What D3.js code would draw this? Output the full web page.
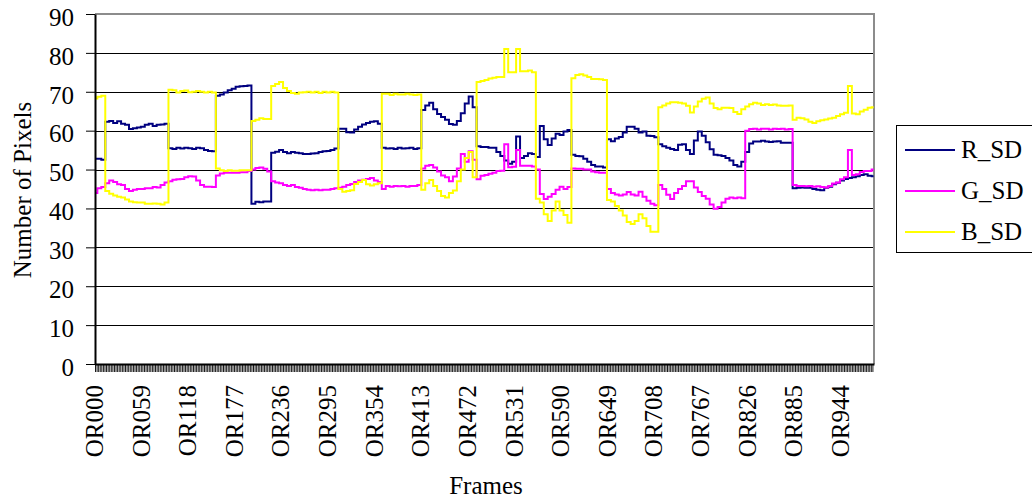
<!DOCTYPE html>
<html>
<head>
<meta charset="utf-8">
<script src="https://cdn.jsdelivr.net/npm/d3@7"></script>
<style>
  body { margin: 0; background: #fff; }
  text { font-family: 'Liberation Serif', 'Times New Roman', serif; fill: #000; }
</style>
</head>
<body>
<div class="chart"></div>
<script>
// Data - frames OR000..OR985, one reading every 5th frame
const frameCount = 986
const sampleStep = 5

const tickLabels = ['OR000', 'OR059', 'OR118', 'OR177', 'OR236', 'OR295', 'OR354', 'OR413', 'OR472',
  'OR531', 'OR590', 'OR649', 'OR708', 'OR767', 'OR826', 'OR885', 'OR944']
const yTicks = [0, 10, 20, 30, 40, 50, 60, 70, 80, 90]

const seriesNames = ['R_SD', 'G_SD', 'B_SD']
const seriesColors = ['#000080', '#ff00ff', '#ffff00']

const rSD = [
  52.8, 52.8, 52.5, 62.3, 62.5, 62, 62.4, 61.8, 61.5, 60.4,
  60.6, 60.8, 61, 61.5, 61.8, 61.2, 61.5, 61.6, 61.8, 55.5,
  55.3, 55.6, 55.4, 55.6, 55.5, 55.3, 55.6, 55.5, 55, 54.8,
  54.7, 69, 69.3, 69.8, 70.4, 70.8, 71.3, 71.4, 71.5, 71.6,
  41.2, 41.7, 41.6, 41.8, 41.8, 54.3, 54.6, 55, 54.5, 54.2,
  54.5, 54.3, 54.2, 54, 54, 54.1, 54.2, 54.5, 54.7, 54.8,
  55, 55.4, 60.5, 60.5, 59.6, 59.5, 60.3, 61, 61.6, 62,
  62.3, 62.4, 61.8, 55.6, 55.4, 55.5, 55.3, 55.6, 55.4, 55.5,
  55.6, 55.3, 55.5, 65.3, 66.5, 67.2, 65.5, 64.3, 63.5, 62.8,
  61.7, 61.5, 62.5, 64.5, 67, 68.8, 66, 56, 55.8, 55.8,
  55.6, 55.6, 54.5, 53.5, 52.3, 51.5, 52, 58.5, 53, 53.5,
  54.2, 54, 53.2, 61.2, 57.8, 56.3, 58, 59.2, 58.9, 59.8,
  60.2, 53.8, 53.5, 53.4, 52.8, 52, 51.2, 50.8, 50.8, 50.5,
  57.8, 57.3, 58, 58.4, 59.5, 61, 61, 60.5, 59.5, 59.8,
  58.7, 58.6, 58.3, 56.5, 56, 55.6, 55.3, 55, 56.4, 56.5,
  55, 54, 57.5, 59.8, 58.7, 57, 55.2, 53.8, 53.7, 53.5,
  53, 52.3, 51.2, 50.8, 52, 54.5, 56.7, 57.2, 57.2, 57.4,
  57.2, 57.1, 57.2, 57.3, 56.9, 56.9, 56.9, 45.2, 45.3, 45.4,
  45.3, 45.3, 45, 44.8, 44.7, 45.3, 45.6, 46.2, 46.6, 47.2,
  47.6, 47.8, 48, 48.3, 48.6, 48.8, 48.4, 48.3
]

const gSD = [
  44, 45.2, 45.5, 46.5, 47.2, 46.8, 46.2, 46, 45, 44.5,
  44.8, 45, 45, 45.2, 45.2, 45.5, 45.4, 46, 46.7, 47,
  47.4, 47.5, 47.6, 48, 48.3, 48.2, 47.2, 46, 45.6, 45.6,
  45.5, 48.5, 49, 49.2, 49.2, 49.2, 49.2, 49.3, 49.3, 49.6,
  50, 50.4, 50.5, 50.2, 49.5, 47, 46.7, 46.5, 46, 45.8,
  46, 45.5, 45.3, 45, 44.8, 44.7, 44.8, 44.7, 44.8, 44.8,
  45, 45.2, 45.3, 45.6, 46, 46.3, 46.8, 47.2, 47.4, 47.6,
  47.8, 47.2, 46.8, 45, 45.8, 45.6, 45.8, 45.7, 45.8, 45.6,
  45.8, 45.8, 46, 50.3, 51, 51.2, 50.5, 49.5, 48.5, 48,
  47, 48.2, 50.3, 54, 52, 54.7, 52.5, 47.5, 48.4, 48.6,
  48.9, 49.2, 49.6, 49.7, 56.5, 50.6, 50.7, 55, 51, 51,
  51, 50.8, 50, 43.7, 42.4, 43, 43.7, 44.8, 45.6, 45,
  45.5, 50.3, 50.2, 50.2, 50, 50, 49.5, 49.3, 49.2, 49.2,
  45, 44, 43.6, 43.3, 43.6, 44.2, 43.6, 43.3, 44.3, 43,
  42, 41.2, 40.8, 46, 45, 43.5, 42.4, 44, 45, 45.8,
  47, 47, 45.4, 44.2, 43.2, 42.5, 41, 39.9, 40.4, 41.5,
  42.5, 42.8, 42.6, 42.8, 42.6, 60, 60.4, 60.5, 60.3, 60.5,
  60.5, 60.3, 60.5, 60.4, 60.5, 60.3, 60.4, 46, 45.8, 45.8,
  45.7, 45.8, 45.6, 45.7, 45.5, 45.4, 45.8, 46.4, 46.7, 47.5,
  48, 55, 48.6, 48.8, 49.4, 49.6, 49.6, 50
]

const bSD = [
  68.3, 68.7, 69, 44.5, 43.8, 43.3, 43, 42.8, 42.3, 41.8,
  41.6, 41.5, 41.5, 41.2, 41.2, 41.3, 41.2, 41, 41.5, 70.5,
  70.4, 69.8, 70.2, 70.3, 69.9, 70, 70.2, 70, 69.8, 70,
  69.8, 50.3, 49.8, 49.6, 49.8, 49.7, 49.7, 49.8, 49.8, 49.8,
  62.5, 62.8, 63.2, 63, 63, 71.5, 72, 72.5, 71, 70.2,
  69.7, 69.5, 69.8, 69.9, 70, 69.8, 70, 69.7, 70, 69.8,
  70, 69.8, 45, 44.3, 44.5, 44.7, 46.3, 46.8, 47.3, 46.2,
  45.9, 46.2, 46.5, 69.5, 69.5, 69.2, 69.5, 69.3, 69.3, 69.5,
  69.3, 69.2, 69.3, 44.8, 46.5, 47.3, 45.8, 44.5, 43.2, 42.8,
  44, 44.6, 47, 50, 53, 54.5, 48, 72.5, 72.8, 73,
  73.4, 73.6, 73.8, 73.8, 81, 75, 75, 81, 75.3, 75.3,
  75.5, 75, 42.5, 41.5, 38.5, 36.8, 39.5, 41.8, 39.5, 38.3,
  36.3, 73.5, 74.3, 74.5, 74.2, 73.8, 73.3, 73.3, 73.2, 73,
  42.2, 41.8, 40.6, 39.5, 38.2, 36.5, 36, 36.8, 38.5, 37.5,
  35.5, 34, 34, 66, 66.5, 67, 67.3, 67.3, 67.2, 67,
  66.4, 64.7, 66.2, 67.5, 68.2, 68.5, 67, 65.8, 65.5, 65.9,
  65.9, 65.8, 64.8, 64.3, 65.5, 66.2, 66.8, 67.2, 67, 66.6,
  66.8, 66.6, 66.7, 66.5, 66.4, 66.4, 66.5, 62.8, 63.3, 63.2,
  62.9, 62.3, 62, 62.4, 62.7, 62.9, 63.1, 63.3, 63.8, 64.2,
  64.6, 71.5, 64.4, 64.2, 64.9, 65.4, 65.9, 66
]

function draw() {
  const series = [rSD, gSD, bSD]

  // Dimensions
  const dims = {
    width: 1032,
    height: 502,
    left: 95,
    right: 874,
    top: 14,
    bottom: 364
  }

  const categories = d3.range(frameCount).map(i => 'OR' + String(i).padStart(3, '0'))

  // x scale (one band per frame)
  const xScale = d3.scaleBand()
    .domain(categories)
    .range([dims.left, dims.right])

  // y scale
  const yScale = d3.scaleLinear()
    .domain([0, 90])
    .range([dims.bottom, dims.top])

  const xAcc = (d, i) => xScale(categories[i * sampleStep]) + xScale.bandwidth() / 2

  const lineGen = d3.line()
    .curve(d3.curveStep)
    .x(xAcc)
    .y(d => yScale(d))

  const svg = d3.select('.chart')
    .append('svg')
    .attr('width', dims.width)
    .attr('height', dims.height)

  // grid lines
  svg.append('g')
    .selectAll('line')
    .data(yTicks.filter(v => v > 0 && v < 90))
    .join('line')
    .attr('x1', dims.left)
    .attr('x2', dims.right)
    .attr('y1', d => Math.round(yScale(d)) + 0.5)
    .attr('y2', d => Math.round(yScale(d)) + 0.5)
    .attr('stroke', '#000')
    .attr('stroke-width', 1)

  // plot border (top / right in grey)
  svg.append('path')
    .attr('d', `M${dims.left},${dims.top}H${dims.right}V${dims.bottom}`)
    .attr('fill', 'none')
    .attr('stroke', '#8c8c8c')
    .attr('stroke-width', 2)

  // lines
  svg.append('g')
    .selectAll('path')
    .data(series)
    .join('path')
    .attr('d', lineGen)
    .attr('fill', 'none')
    .attr('stroke', (d, i) => seriesColors[i])
    .attr('stroke-width', 2)
    .attr('stroke-linejoin', 'miter')

  // y axis
  const yAxis = d3.axisLeft(yScale)
    .tickValues(yTicks)
    .tickSize(9)
    .tickSizeOuter(0)
    .tickPadding(12)

  const yAxisGroup = svg.append('g')
    .attr('transform', `translate(${dims.left},0)`)
    .call(yAxis)

  yAxisGroup.select('.domain').attr('stroke-width', 2)
  yAxisGroup.selectAll('text')
    .attr('font-size', 25)
    .attr('font-family', "'Liberation Serif', serif")
    .attr('dy', '0.45em')

  // x axis - dense frame ticks
  const xAxis = d3.axisBottom(xScale)
    .tickValues(categories.filter((d, i) => i % 2 === 0))
    .tickSize(8)
    .tickSizeOuter(0)
    .tickFormat('')

  const xAxisGroup = svg.append('g')
    .attr('transform', `translate(0,${dims.bottom})`)
    .call(xAxis)

  xAxisGroup.select('.domain').attr('stroke-width', 2)
  xAxisGroup.selectAll('.tick line').attr('stroke-width', 0.9)

  // x tick labels
  const xLabelAxis = d3.axisBottom(xScale)
    .tickValues(tickLabels)
    .tickSize(0)

  const xLabelGroup = svg.append('g')
    .attr('transform', `translate(0,${dims.bottom})`)
    .call(xLabelAxis)

  xLabelGroup.select('.domain').remove()
  xLabelGroup.selectAll('text')
    .attr('font-size', 25)
    .attr('font-family', "'Liberation Serif', serif")
    .attr('transform', 'rotate(-90)')
    .attr('text-anchor', 'end')
    .attr('x', -21)
    .attr('y', 0)
    .attr('dy', '0.3em')

  // axis titles
  svg.append('text')
    .text('Number of Pixels')
    .attr('font-size', 25)
    .attr('text-anchor', 'middle')
    .attr('transform', 'translate(31,190) rotate(-90)')

  svg.append('text')
    .text('Frames')
    .attr('font-size', 25)
    .attr('text-anchor', 'middle')
    .attr('x', 486)
    .attr('y', 494)

  // legend
  const legend = svg.append('g')
    .attr('transform', 'translate(896,125)')

  legend.append('rect')
    .attr('x', 0.5)
    .attr('y', 0.5)
    .attr('width', 140)
    .attr('height', 127)
    .attr('fill', '#fff')
    .attr('stroke', '#000')

  const items = legend.selectAll('.item')
    .data(seriesNames)
    .join('g')
    .classed('item', true)
    .attr('transform', (d, i) => `translate(0,${25 + i * 41})`)

  items.append('line')
    .attr('x1', 9)
    .attr('x2', 59)
    .attr('stroke', (d, i) => seriesColors[i])
    .attr('stroke-width', 2)

  items.append('text')
    .text(d => d)
    .attr('x', 65)
    .attr('dy', '0.33em')
    .attr('font-size', 25)
}

draw()
</script>
</body>
</html>
